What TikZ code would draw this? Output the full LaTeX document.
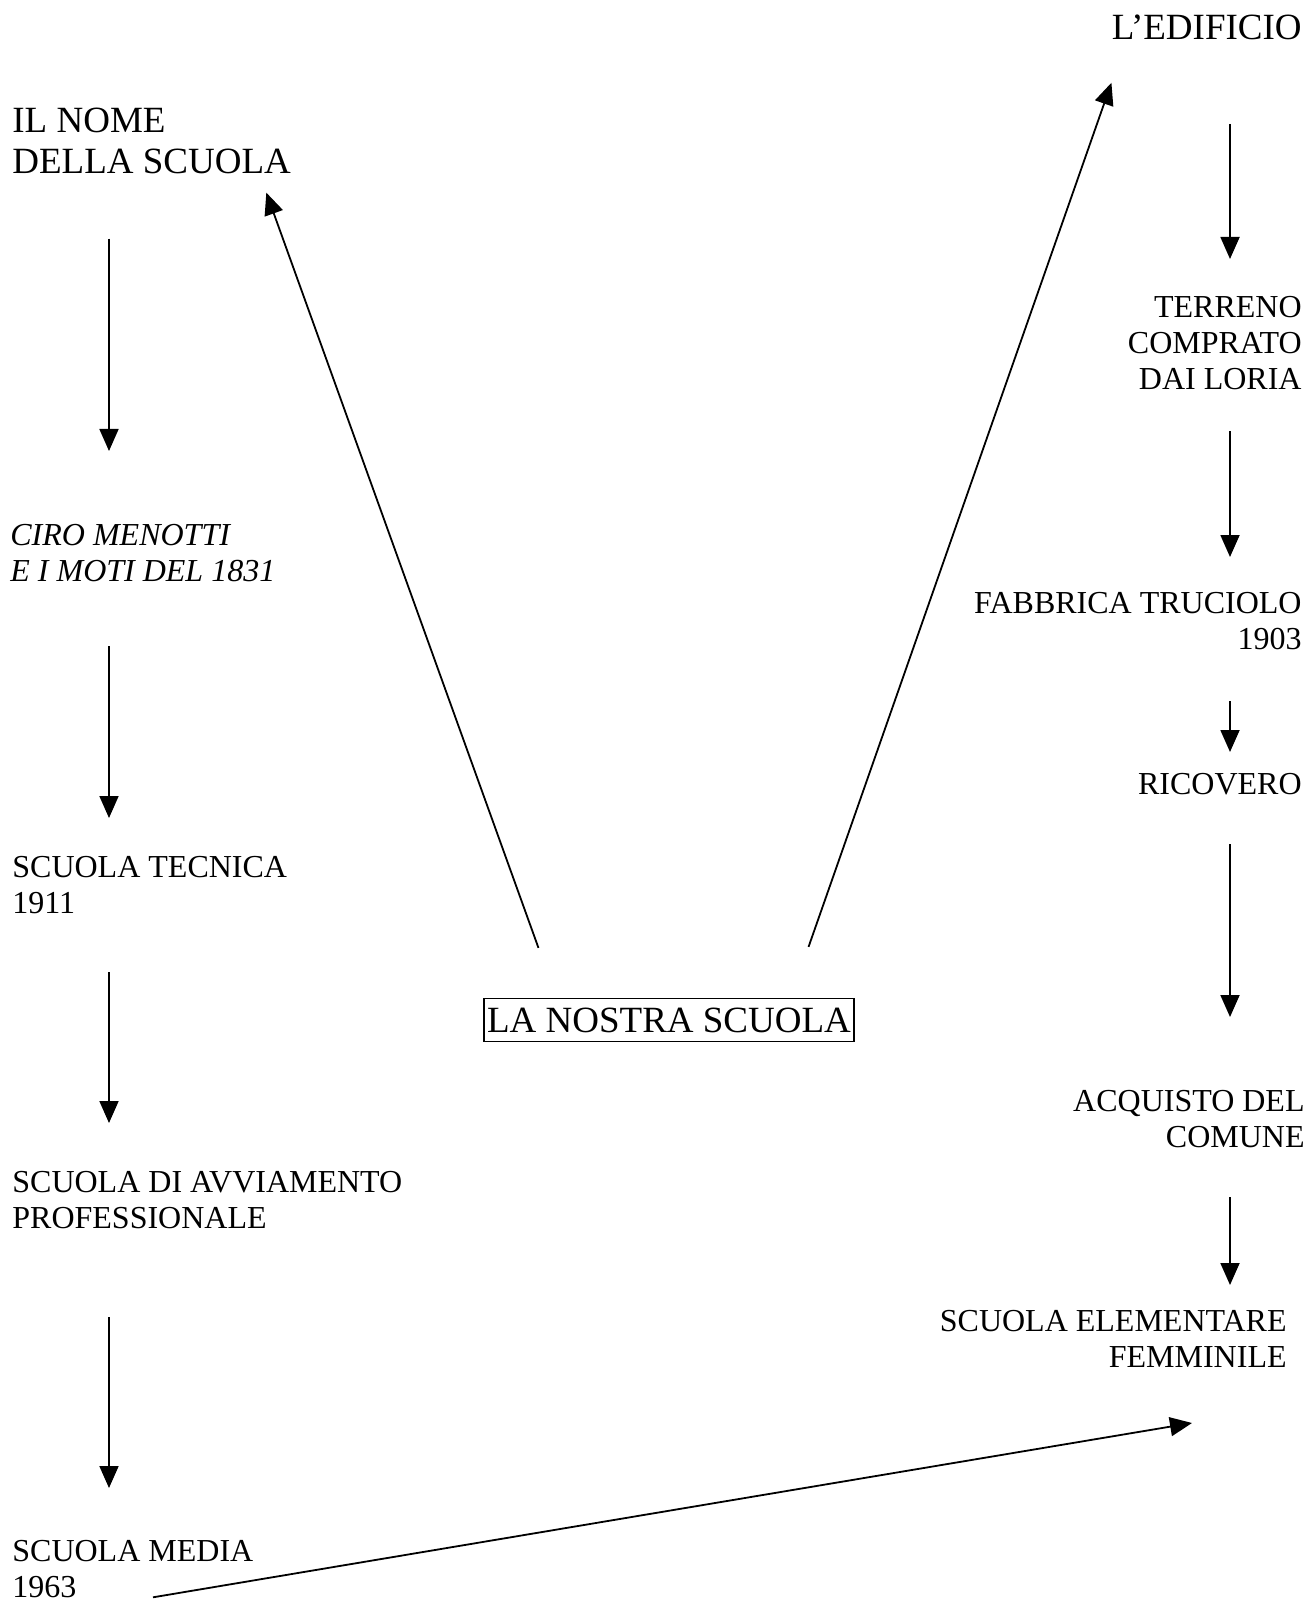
\documentclass[tikz,border=0pt]{standalone}
\usepackage{fontspec}
\setmainfont{Liberation Serif}
\usetikzlibrary{arrows.meta, calc}

\begin{document}
\begin{tikzpicture}[
        x=0.5pt, y=-0.5pt,
        big/.style={inner sep=0pt, align=left, font=\fontsize{18.5}{20.5}\selectfont},
        lft/.style={inner sep=0pt, anchor=north west, align=left, font=\fontsize{16}{18}\selectfont},
        rgt/.style={inner sep=0pt, anchor=north east, align=right, font=\fontsize{16}{18}\selectfont},
        arr/.style={-{Triangle[length=11pt, width=9.5pt]}, line width=0.9pt},
    ]
        \useasboundingbox (0,0) rectangle (1313,1604);

        % Centre
        \node[big, draw, line width=0.6pt, inner xsep=1.5pt, minimum height=21.5pt] (scuola) at (669,1020) {LA NOSTRA SCUOLA};

        % Left column: the name
        \coordinate (colL) at (109,0);
        \node[big, anchor=north west] (nome) at (12,108) {IL NOME\\DELLA SCUOLA};
        \node[lft, font=\fontsize{16}{18}\selectfont\itshape] (ciro) at (10,524) {CIRO MENOTTI\\E I MOTI DEL 1831};
        \node[lft] (tecnica) at (12,856) {SCUOLA TECNICA\\1911};
        \node[lft] (avviamento) at (12,1171) {SCUOLA DI AVVIAMENTO\\PROFESSIONALE};
        \node[lft] (media) at (12,1540) {SCUOLA MEDIA\\1963};

        % Right column: the building
        \coordinate (colR) at (1230,0);
        \node[big, anchor=north east] (edificio) at (1302,15) {L'EDIFICIO};
        \node[rgt] (terreno) at (1302,296) {TERRENO\\COMPRATO\\DAI LORIA};
        \node[rgt] (fabbrica) at (1302,592) {FABBRICA TRUCIOLO\\1903};
        \node[rgt] (ricovero) at (1302,773) {RICOVERO};
        \node[rgt] (acquisto) at (1305,1090) {ACQUISTO DEL\\COMUNE};
        \node[rgt] (elementare) at (1287,1310) {SCUOLA ELEMENTARE\\FEMMINILE};

        % Arrows from the centre
        \draw[arr] ($(scuola.north west)+(55,-50)$) -- ($(nome.south east)+(-25,18)$);
        \draw[arr] ($(scuola.north east)+(-46,-51)$) -- ($(edificio.south west)+(0,42)$);

        % Arrows — left column
        \draw[arr] ($(nome.south -| colL)+(0,64)$) -- ($(ciro.north -| colL)-(0,73)$);
        \draw[arr] ($(ciro.south -| colL)+(0,64)$) -- ($(tecnica.north -| colL)-(0,38)$);
        \draw[arr] ($(tecnica.south -| colL)+(0,58)$) -- ($(avviamento.north -| colL)-(0,48)$);
        \draw[arr] ($(avviamento.south -| colL)+(0,88)$) -- ($(media.north -| colL)-(0,52)$);

        % Arrows — right column
        \draw[arr] ($(edificio.south -| colR)+(0,83)$) -- ($(terreno.north -| colR)-(0,37)$);
        \draw[arr] ($(terreno.south -| colR)+(0,41)$) -- ($(fabbrica.north -| colR)-(0,35)$);
        \draw[arr] ($(fabbrica.south -| colR)+(0,51)$) -- ($(ricovero.north -| colR)-(0,21)$);
        \draw[arr] ($(ricovero.south -| colR)+(0,49)$) -- ($(acquisto.north -| colR)-(0,73)$);
        \draw[arr] ($(acquisto.south -| colR)+(0,49)$) -- ($(elementare.north -| colR)-(0,25)$);

        % Bottom link
        \draw[arr] ($(media.south west)+(141,-1)$) -- ($(elementare.south east)+(-95,55)$);
    \end{tikzpicture}
\end{document}
